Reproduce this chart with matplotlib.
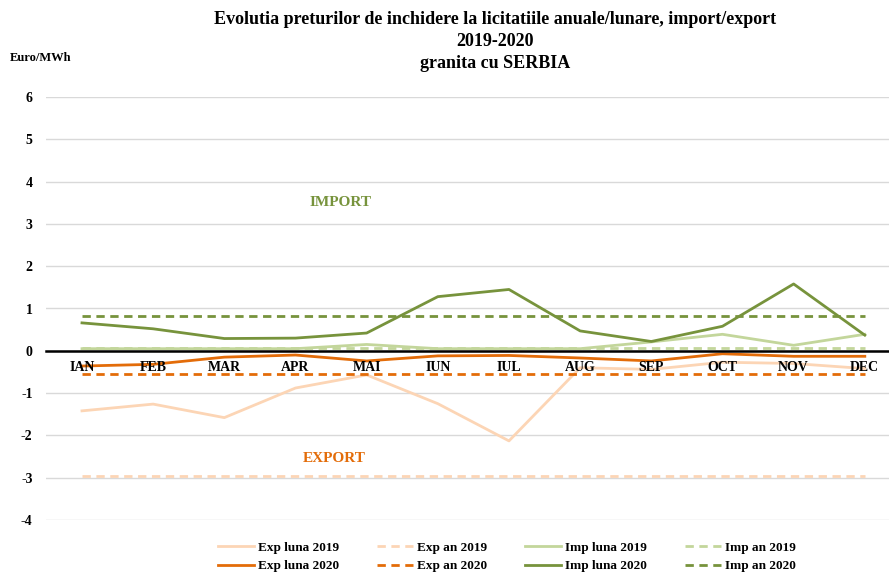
import numpy as np
import matplotlib
matplotlib.use("Agg")
from matplotlib import pyplot as plt

# date
luni = ["IAN", "FEB", "MAR", "APR", "MAI", "IUN", "IUL", "AUG", "SEP", "OCT", "NOV", "DEC"]
exp_luna_2019 = [-1.42, -1.26, -1.58, -0.88, -0.57, -1.25, -2.13, -0.40, -0.44, -0.27, -0.30, -0.42]
exp_an_2019 = [-2.97] * 12
imp_luna_2019 = [0.05, 0.05, 0.05, 0.05, 0.15, 0.05, 0.05, 0.05, 0.21, 0.39, 0.13, 0.39]
imp_an_2019 = [0.07] * 12
exp_luna_2020 = [-0.36, -0.32, -0.15, -0.10, -0.24, -0.12, -0.11, -0.17, -0.24, -0.07, -0.13, -0.13]
exp_an_2020 = [-0.56] * 12
imp_luna_2020 = [0.66, 0.52, 0.29, 0.30, 0.42, 1.28, 1.45, 0.47, 0.22, 0.58, 1.58, 0.37]
imp_an_2020 = [0.82] * 12

verde = "#77933C"
verde_des = "#C3D69B"
portocaliu = "#E36C09"
piersica = "#FCD5B5"

plt.rcParams['font.family'] = ['Liberation Serif', 'DejaVu Serif']
plt.rcParams['font.weight'] = 'bold'

fig = plt.figure(figsize=(8.89, 5.72), dpi=100)
ax = fig.add_axes([46.4 / 889, 52 / 572, 842.6 / 889, 423 / 572])
x = np.arange(len(luni))

lw = 2.0
l1, = ax.plot(x, exp_luna_2019, color=piersica, lw=lw, label="Exp luna 2019")
l2, = ax.plot(x, exp_an_2019, color=piersica, lw=lw, ls=(0, (3, 2)), label="Exp an 2019")
l3, = ax.plot(x, imp_luna_2019, color=verde_des, lw=lw, label="Imp luna 2019")
l4, = ax.plot(x, imp_an_2019, color=verde_des, lw=lw, ls=(0, (3, 2)), label="Imp an 2019")
l5, = ax.plot(x, exp_luna_2020, color=portocaliu, lw=lw, label="Exp luna 2020")
l6, = ax.plot(x, exp_an_2020, color=portocaliu, lw=lw, ls=(0, (3, 2)), label="Exp an 2020")
l7, = ax.plot(x, imp_luna_2020, color=verde, lw=lw, label="Imp luna 2020")
l8, = ax.plot(x, imp_an_2020, color=verde, lw=lw, ls=(0, (3, 2)), label="Imp an 2020")

ax.set_xlim(-0.5, 11.34)
ax.set_ylim(-4, 6)
ax.set_yticks(range(-4, 7))
ax.set_yticklabels([str(v) for v in range(-4, 7)], fontsize=10, fontweight='bold')
ax.yaxis.grid(True, color="#D9D9D9", lw=1)
ax.set_axisbelow(True)
ax.tick_params(axis='y', length=0, pad=10)

ax.set_xticks(x)
ax.set_xticklabels(luni, fontsize=10, fontweight='bold')
ax.tick_params(axis='x', length=0, pad=7)
ax.xaxis.set_zorder(5)
ax.spines['bottom'].set_position(('data', 0))
ax.spines['bottom'].set_color('black')
ax.spines['bottom'].set_linewidth(1.8)
for s in ['top', 'right', 'left']:
    ax.spines[s].set_visible(False)

ax.text(3.64, 3.5, "IMPORT", color=verde, fontsize=11, fontweight='bold', ha='center', va='center')
ax.text(3.55, -2.55, "EXPORT", color=portocaliu, fontsize=11, fontweight='bold', ha='center', va='center')

fig.text(495 / 889, 1 - 20 / 572, "Evolutia preturilor de inchidere la licitatiile anuale/lunare, import/export",
         ha='center', va='center', fontsize=13, fontweight='bold')
fig.text(495 / 889, 1 - 42 / 572, "2019-2020", ha='center', va='center', fontsize=13, fontweight='bold')
fig.text(495 / 889, 1 - 63 / 572, "granita cu SERBIA", ha='center', va='center', fontsize=13, fontweight='bold')
fig.text(10 / 889, 1 - 58 / 572, "Euro/MWh", ha='left', va='center', fontsize=9, fontweight='bold')

fig.legend([l1, l5, l2, l6, l3, l7, l4, l8],
           [h.get_label() for h in [l1, l5, l2, l6, l3, l7, l4, l8]],
           ncol=4, loc='center', bbox_to_anchor=(507 / 889, 1 - 557 / 572),
           frameon=False, fontsize=9.5, handlelength=2.7, columnspacing=2.9, labelspacing=0.45,
           handletextpad=0.3)

fig.savefig("out.png", dpi=100)
